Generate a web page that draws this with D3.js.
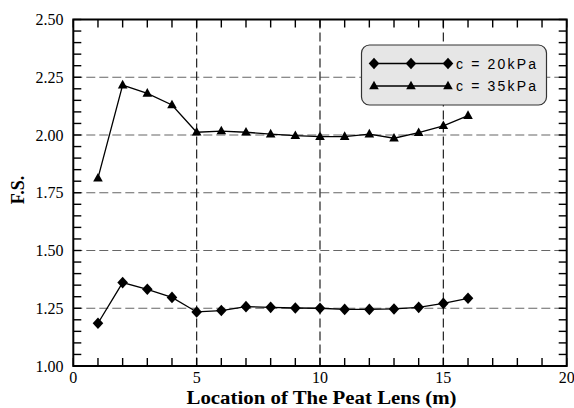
<!DOCTYPE html>
<html><head><meta charset="utf-8">
<script src="https://cdn.jsdelivr.net/npm/d3@7"></script>
<style>body{margin:0;background:#fff}svg{display:block}</style>
</head><body>
<svg id="c" width="574" height="408"></svg>
<script>
const locations = [1,2,3,4,5,6,7,8,9,10,11,12,13,14,15,16];
const fs20 = [1.185,1.361,1.332,1.297,1.234,1.24,1.257,1.254,1.251,1.25,1.245,1.245,1.247,1.254,1.271,1.293];
const fs35 = [1.813,2.216,2.18,2.13,2.012,2.017,2.012,2.004,1.997,1.993,1.993,2.004,1.986,2.01,2.04,2.084];
const seriesNames = ["c = 20kPa","c = 35kPa"];
const xTicks = [0,5,10,15,20];
const yTicks = [1.00,1.25,1.50,1.75,2.00,2.25,2.50];

const svg = d3.select("#c");
const L=73.3, R=566.7, T=19.5, B=366;
const x = d3.scaleLinear().domain([0,20]).range([L,R]);
const y = d3.scaleLinear().domain([1,2.5]).range([B,T]);
const serif = "Liberation Serif, Times New Roman, serif";

// grid
svg.append("g").selectAll("line").data(yTicks.slice(1,-1)).join("line")
  .attr("x1",L).attr("x2",R).attr("y1",d=>y(d)).attr("y2",d=>y(d))
  .attr("stroke","#666").attr("stroke-width",1.2).attr("stroke-dasharray","9,4");
svg.append("g").selectAll("line").data(xTicks.slice(1,-1)).join("line")
  .attr("y1",T).attr("y2",B).attr("x1",d=>x(d)).attr("x2",d=>x(d))
  .attr("stroke","#222").attr("stroke-width",1.2).attr("stroke-dasharray","9,4");

// inward minor ticks on all four sides
const xMinor = x.ticks(20);
const yMinor = y.ticks(30);
const tg = svg.append("g");
xMinor.forEach(v=>{
  tg.append("rect").attr("x",x(v)-0.7).attr("y",B-8).attr("width",1.4).attr("height",8).attr("fill","#000");
  tg.append("rect").attr("x",x(v)-0.7).attr("y",T).attr("width",1.4).attr("height",8).attr("fill","#000");
});
yMinor.forEach(v=>{
  tg.append("rect").attr("x",L).attr("y",y(v)-0.7).attr("width",8).attr("height",1.4).attr("fill","#000");
  tg.append("rect").attr("x",R-8).attr("y",y(v)-0.7).attr("width",8).attr("height",1.4).attr("fill","#000");
});

svg.append("rect").attr("x",L).attr("y",T).attr("width",R-L).attr("height",B-T)
  .attr("fill","none").attr("stroke","#000").attr("stroke-width",2);

// tick labels
svg.append("g").selectAll("text").data(xTicks).join("text")
  .attr("x",d=>x(d)).attr("y",383).attr("text-anchor","middle")
  .attr("font-family",serif).attr("font-size",16)
  .text(d=>d);
svg.append("g").selectAll("text").data(yTicks).join("text")
  .attr("x",63.5).attr("y",d=>y(d)+5.5).attr("text-anchor","end")
  .attr("font-family",serif).attr("font-size",16)
  .text(d=>d.toFixed(2));

// axis titles
svg.append("text").attr("x",321.5).attr("y",404).attr("text-anchor","middle")
  .attr("font-family",serif).attr("font-size",19).attr("font-weight","bold")
  .attr("textLength",270).attr("lengthAdjust","spacingAndGlyphs")
  .text("Location of The Peat Lens (m)");
svg.append("text").attr("transform",`translate(23.5,190) rotate(-90)`).attr("text-anchor","middle")
  .attr("font-family",serif).attr("font-size",18).attr("font-weight","bold")
  .text("F.S.");

// series
const diamondPath = "M0,-5.8L5.3,0L0,5.8L-5.3,0Z";
const triPath = "M0,-5.3L4.8,3.3L-4.8,3.3Z";
const line = d3.line();
const series = [
  {vals:fs20, path:diamondPath},
  {vals:fs35, path:triPath}
];
series.forEach(s=>{
  const pts = locations.map((l,i)=>[x(l),y(s.vals[i])]);
  svg.append("path").attr("d",line(pts)).attr("fill","none").attr("stroke","#000").attr("stroke-width",1.3);
  svg.append("g").selectAll("path").data(pts).join("path")
    .attr("transform",d=>`translate(${d[0]},${d[1]})`).attr("d",s.path).attr("fill","#000");
});

// legend
const lg = svg.append("g");
lg.append("rect").attr("x",361.5).attr("y",45).attr("width",185).attr("height",60).attr("rx",8)
  .attr("fill","#e6e6e6").attr("stroke","#333").attr("stroke-width",1.2);
series.forEach((s,i)=>{
  const yy = 63.5 + i*22.5;
  lg.append("line").attr("x1",374).attr("x2",448).attr("y1",yy).attr("y2",yy).attr("stroke","#000").attr("stroke-width",1.3);
  [374,411,448].forEach(xx=>lg.append("path").attr("transform",`translate(${xx},${yy})`).attr("d",s.path).attr("fill","#000"));
  lg.append("text").attr("x",456).attr("y",yy+5).attr("font-family","Liberation Sans, Arial, sans-serif").attr("font-size",14)
    .attr("textLength",80).attr("lengthAdjust","spacing")
    .text(seriesNames[i]);
});
</script>
</body></html>
